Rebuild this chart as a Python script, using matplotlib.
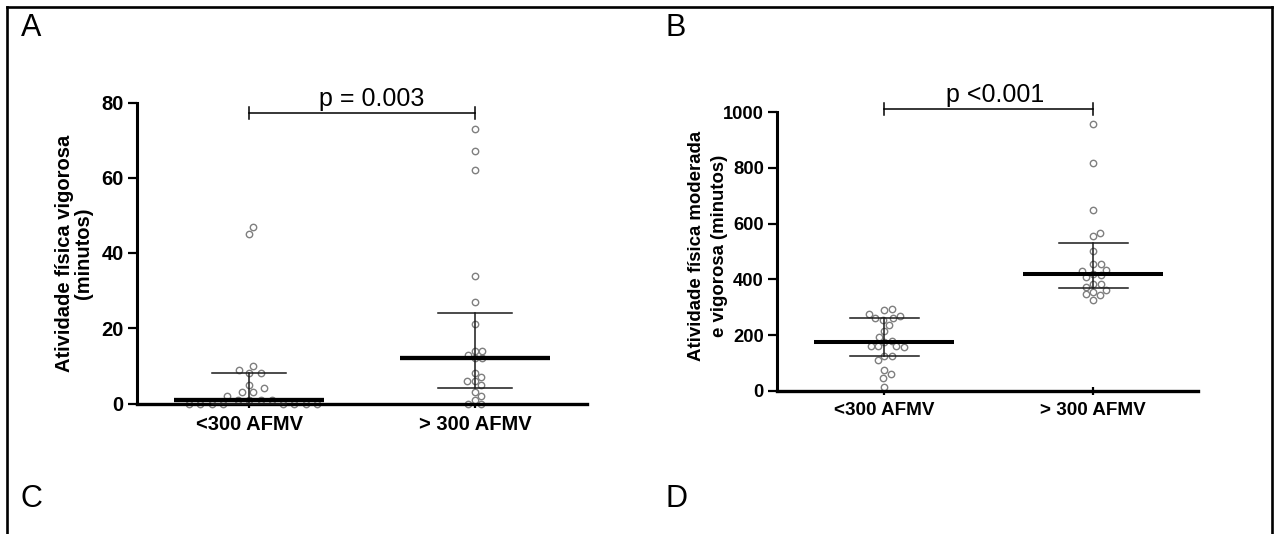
import numpy as np
import matplotlib
matplotlib.use('Agg')
import matplotlib.pyplot as plt
from matplotlib.lines import Line2D

plt.rcParams['font.family'] = ['Liberation Sans', 'DejaVu Sans']

# ---------------- data ----------------
categories = ['<300 AFMV', '> 300 AFMV']
vig_low = [47, 45, 10, 9, 8, 8, 5, 4, 3, 3, 2, 1, 1, 1, 1, 0, 0, 0, 0, 0, 0, 0, 0]
vig_high = [73, 67, 62, 34, 27, 21, 14, 14, 12, 12, 13, 8, 7, 6, 6, 5, 3, 2, 1, 0, 0]
mvpa_low = [293, 290, 274, 268, 261, 254, 260, 237, 216, 193, 174, 180, 159, 159,
            159, 157, 126, 126, 109, 73, 61, 47, 14]
mvpa_high = [957, 818, 648, 568, 556, 503, 456, 456, 431, 416, 418, 408, 435, 374,
             384, 382, 362, 356, 347, 344, 326]
p_labels = ['p = 0.003', 'p <0.001']
panel_letters = ['A', 'B', 'C', 'D']
ylabels = ['Atividade física vigorosa\n(minutos)',
           'Atividade física moderada\ne vigorosa (minutos)']
yticks_A = [0, 20, 40, 60, 80]
yticks_B = [0, 200, 400, 600, 800, 1000]

# ---------------- figure ----------------
W, H = 1276, 534
fig = plt.figure(figsize=(W / 100, H / 100), dpi=100)


def px_axes(l, r, t, b):
    return fig.add_axes([l / W, 1 - b / H, (r - l) / W, (b - t) / H])


def swarm_x(ax, xc, values, cw, ch, step=0.5):
    vals = np.asarray(values, float)
    pts = ax.transData.transform(np.column_stack([np.full(len(vals), xc), vals]))
    ypx = pts[:, 1]
    x0 = pts[0, 0]
    med = np.median(vals)
    order = np.argsort(np.abs(vals - med), kind='stable')
    placed = []
    dx = np.zeros(len(vals))
    for i in order:
        y = ypx[i]
        k = 0
        found = None
        while found is None:
            cands = [0.0] if k == 0 else [k * step, -k * step]
            for c in cands:
                if all(((c - px) / cw) ** 2 + ((y - py) / ch) ** 2 >= 1 for px, py in placed):
                    found = c
                    break
            k += 1
        placed.append((found, y))
        dx[i] = found
    return ax.transData.inverted().transform(np.column_stack([x0 + dx, ypx]))[:, 0]


def quart(v):
    return np.percentile(v, [25, 50, 75], method='weibull')


axA = px_axes(137, 587, 102.5, 403.5)
axB = px_axes(777, 1198, 112.3, 390.7)

axA.set_xlim(-0.4956, 1.4956)
axA.set_ylim(0, 80)
axB.set_xlim(-0.513, 1.501)
axB.set_ylim(0, 1000)

setups = [
    (axA, [vig_low, vig_high], yticks_A, [(11.5, 8.0), (7.5, 7.5)], 14.5, 14.5, 3.1),
    (axB, [mvpa_low, mvpa_high], yticks_B, [(7.3, 7.3), (7.3, 7.3)], 13.2, 13.6, 2.9),
]

for ax, groups, yt, spreads, tfs, cfs, mlw in setups:
    for s in ['top', 'right']:
        ax.spines[s].set_visible(False)
    ax.spines['left'].set_linewidth(2.2)
    ax.spines['bottom'].set_linewidth(2.4)
    ax.set_yticks(yt)
    ax.set_yticklabels([str(v) for v in yt], fontsize=tfs, fontweight='bold')
    ax.set_xticks([0, 1])
    ax.set_xticklabels(categories, fontsize=cfs, fontweight='bold')
    ax.tick_params(axis='y', direction='out', length=6.5, width=1.6, pad=3)
    ax.tick_params(axis='x', direction='inout', length=6, width=1.6, pad=5)
    for c, (vals, (cw, ch)) in enumerate(zip(groups, spreads)):
        xs = swarm_x(ax, c, vals, cw, ch)
        ax.plot(xs, vals, 'o', ms=4.6, mfc='white', mec='#7f7f7f', mew=1.0,
                zorder=2, clip_on=False, linestyle='none')
        q1, med, q3 = quart(vals)
        ax.plot([c, c], [q1, q3], color='#1a1a1a', lw=1.1, zorder=3)
        for q in (q1, q3):
            ax.plot([c - 0.165, c + 0.165], [q, q], color='#1a1a1a', lw=1.1, zorder=3,
                    clip_on=False)
        ax.plot([c - 0.334, c + 0.334], [med, med], color='black', lw=mlw, zorder=4,
                solid_capstyle='butt', clip_on=False)

# significance bars
for ax, ybar, dy, shift, p in [(axA, 77.2, 1.6, 0.044, p_labels[0]),
                                (axB, 1012, 21.5, 0.029, p_labels[1])]:
    ax.plot([0, 1], [ybar, ybar], color='black', lw=1.1, clip_on=False, zorder=5)
    for xe in (0, 1):
        ax.plot([xe, xe], [ybar - dy, ybar + dy], color='black', lw=1.1, clip_on=False,
                zorder=5)
    ax.annotate(p, xy=(0.5 + shift, ybar), xytext=(0, 5), textcoords='offset points',
                ha='center', va='baseline', fontsize=18, annotation_clip=False)

# y labels
fig.text(74 / W, 1 - 253 / H, ylabels[0], rotation=90, ha='center', va='center',
         multialignment='center', fontsize=14.5, fontweight='bold', linespacing=0.95)
fig.text(708 / W, 1 - 246 / H, ylabels[1], rotation=90, ha='center', va='center',
         multialignment='center', fontsize=13.4, fontweight='bold', linespacing=1.4)

# panel letters
for letter, (x, y) in zip(panel_letters, [(21, 36), (665, 36), (21, 507), (665, 507)]):
    fig.text(x / W, 1 - y / H, letter, fontsize=22, ha='left', va='baseline')

# outer frame (left, top, right)
fx0, fx1, fy = 6.5 / W, 1272 / W, 1 - 6.5 / H
for xs_, ys_ in [([fx0, fx0], [0, fy]), ([fx0, fx1], [fy, fy]), ([fx1, fx1], [fy, 0])]:
    fig.add_artist(Line2D(xs_, ys_, transform=fig.transFigure, color='black', lw=1.9,
                          solid_capstyle='projecting'))

fig.savefig('out.png', dpi=100)
